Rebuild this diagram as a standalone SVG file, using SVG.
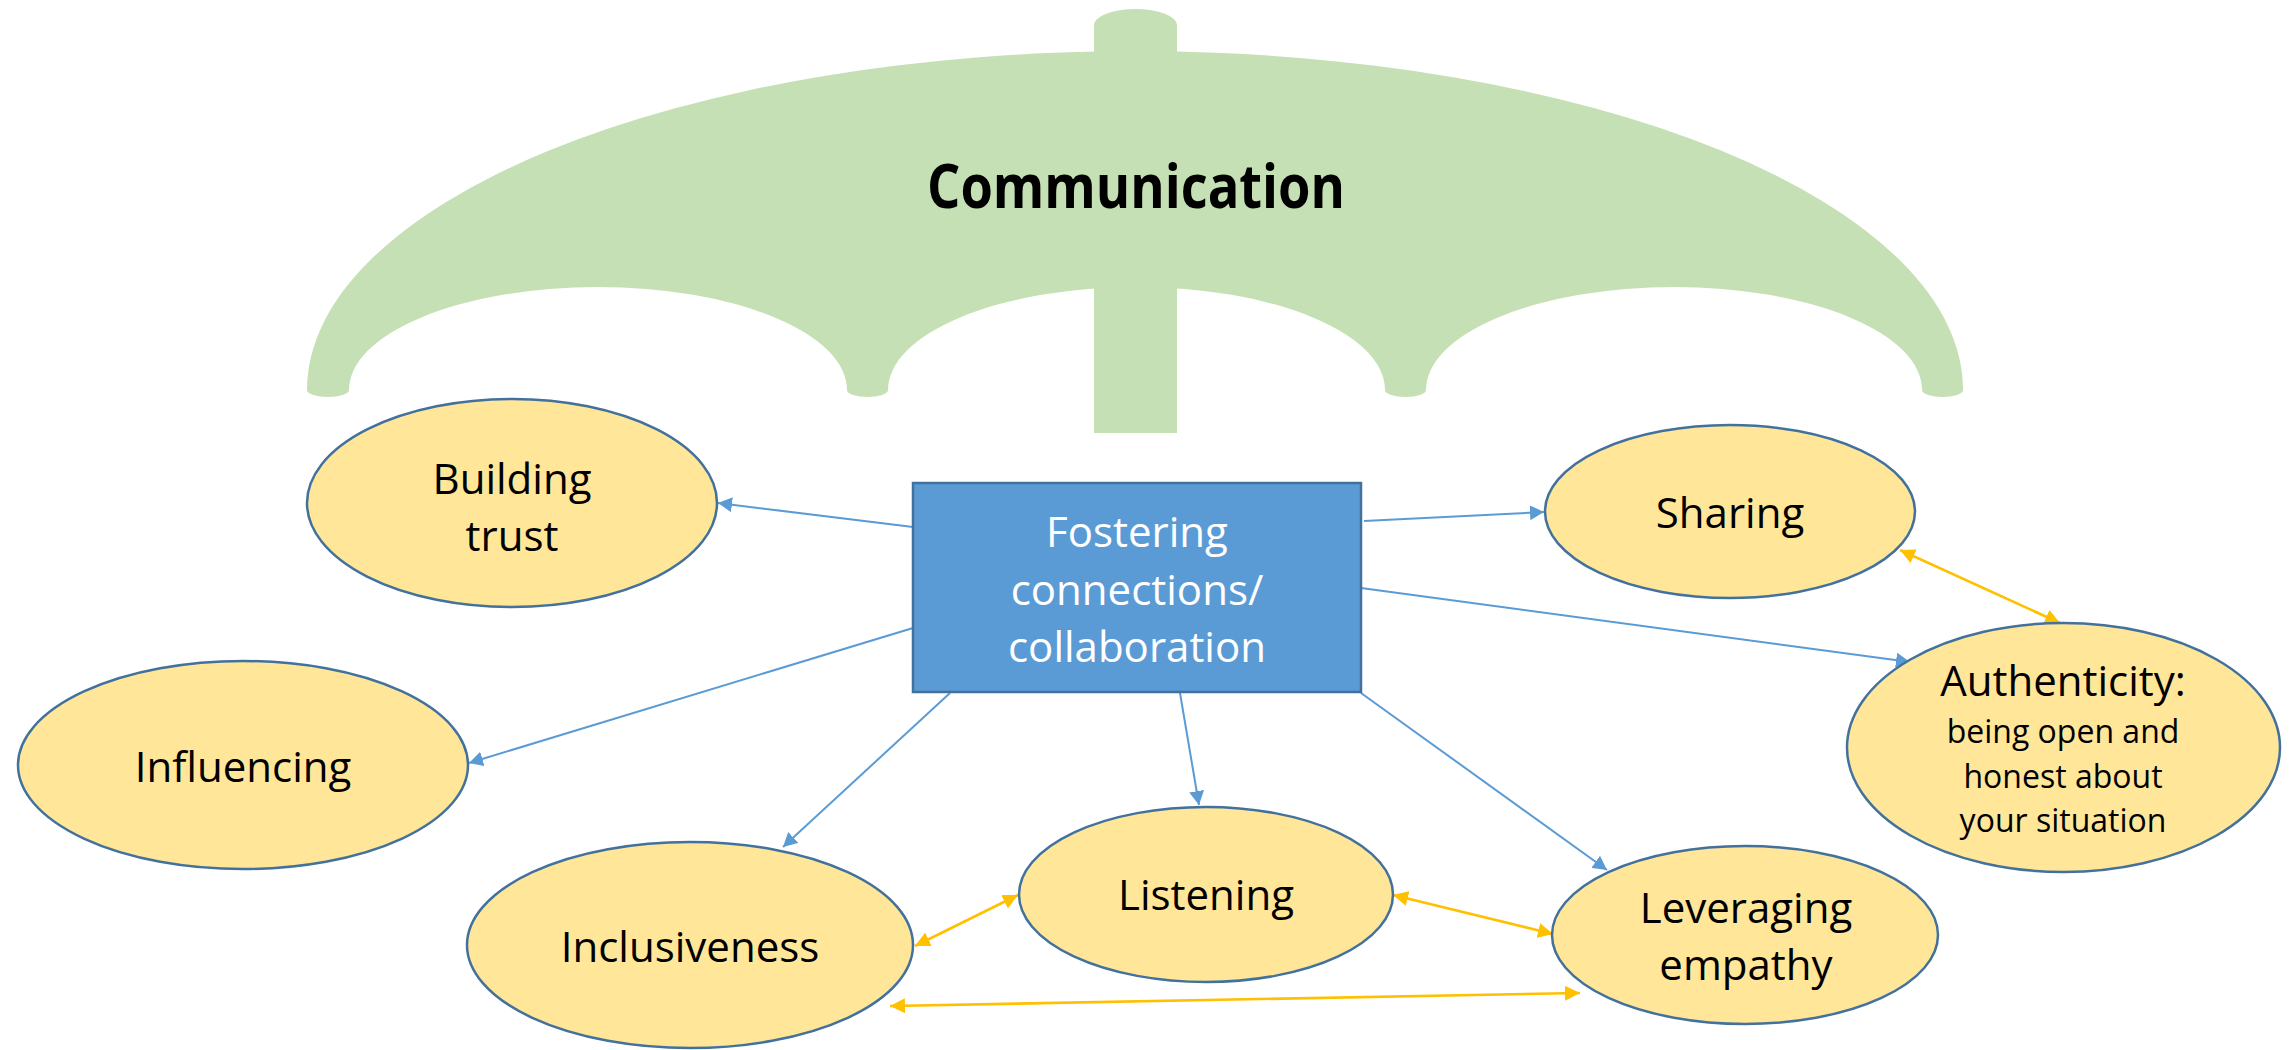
<svg xmlns="http://www.w3.org/2000/svg" width="2293" height="1050" viewBox="0 0 2293 1050">
<style>
.umb{fill:#C5E0B4;}
.node ellipse{fill:#FFE699;stroke:#41719C;stroke-width:2.5;}
.lbl{font-family:"Open Sans","Noto Sans","Liberation Sans",sans-serif;font-size:42px;fill:#000;text-anchor:middle;}
.sm{font-size:32px;}
.wlbl{font-family:"Open Sans","Noto Sans","Liberation Sans",sans-serif;font-size:42px;fill:#fff;text-anchor:middle;}
.blue{stroke:#5B9BD5;stroke-width:2;fill:none;marker-end:url(#ab);}
.org{stroke:#FFC000;stroke-width:2.6;fill:none;marker-end:url(#ao);marker-start:url(#ao);}
</style>
<defs>
<marker id="ab" viewBox="0 0 14 15" refX="14" refY="7.5" markerWidth="14" markerHeight="15" orient="auto-start-reverse" markerUnits="userSpaceOnUse"><path d="M0,0 L14,7.5 L0,15 z" fill="#5B9BD5"/></marker>
<marker id="ao" viewBox="0 0 15 15" refX="15" refY="7.5" markerWidth="15" markerHeight="15" orient="auto-start-reverse" markerUnits="userSpaceOnUse"><path d="M0,0 L15,7.5 L0,15 z" fill="#FFC000"/></marker>
</defs>
<rect width="2293" height="1050" fill="#fff"/>
<g id="umbrella">
<path class="umb" d="M1094 70 V25 A41.5 16 0 0 1 1177 25 V70 Z"/>
<path class="umb" d="M307 390 A828 339 0 0 1 1963 390 A20.5 7 0 0 1 1922 390 A248 103 0 0 0 1426 390 A20.5 7 0 0 1 1385 390 A248.5 103 0 0 0 888 390 A20.5 7 0 0 1 847 390 A249 103 0 0 0 349 390 A21 7 0 0 1 307 390 Z"/>
<rect class="umb" x="1094" y="280" width="83" height="153"/>
<text x="1136" y="208" font-family="'Open Sans','Noto Sans','Liberation Sans',sans-serif" font-weight="bold" font-size="60" text-anchor="middle" textLength="418" lengthAdjust="spacingAndGlyphs" fill="#000">Communication</text>
</g>
<g id="connectors">
<line class="blue" x1="913" y1="527" x2="718" y2="503"/>
<line class="blue" x1="913" y1="628" x2="469" y2="763"/>
<line class="blue" x1="950" y1="693" x2="783" y2="847"/>
<line class="blue" x1="1180" y1="693" x2="1199" y2="805"/>
<line class="blue" x1="1361" y1="693" x2="1607" y2="870"/>
<line class="blue" x1="1364" y1="521" x2="1544" y2="512"/>
<line class="blue" x1="1361" y1="588" x2="1910" y2="662"/>
<line class="org" x1="1900" y1="550" x2="2060" y2="623"/>
<line class="org" x1="915" y1="946" x2="1018" y2="895"/>
<line class="org" x1="1393" y1="895" x2="1553" y2="934"/>
<line class="org" x1="890" y1="1006" x2="1580" y2="993"/>
</g>
<g id="center">
<rect x="913" y="483" width="448" height="209" fill="#5B9BD5" stroke="#41719C" stroke-width="2.5"/>
<text class="wlbl" x="1137" y="547">Fostering</text>
<text class="wlbl" x="1137" y="605">connections/</text>
<text class="wlbl" x="1137" y="662">collaboration</text>
</g>
<g id="building-trust" class="node">
<ellipse cx="512" cy="503" rx="205" ry="104"/>
<text class="lbl" x="512" y="494">Building</text>
<text class="lbl" x="512" y="551">trust</text>
</g>
<g id="influencing" class="node">
<ellipse cx="243" cy="765" rx="225" ry="104"/>
<text class="lbl" x="243" y="782">Influencing</text>
</g>
<g id="inclusiveness" class="node">
<ellipse cx="690" cy="945" rx="223" ry="103"/>
<text class="lbl" x="690" y="962">Inclusiveness</text>
</g>
<g id="listening" class="node">
<ellipse cx="1206" cy="894.5" rx="187" ry="87.5"/>
<text class="lbl" x="1206" y="910">Listening</text>
</g>
<g id="leveraging-empathy" class="node">
<ellipse cx="1745" cy="935" rx="193" ry="89"/>
<text class="lbl" x="1746" y="923">Leveraging</text>
<text class="lbl" x="1746" y="980">empathy</text>
</g>
<g id="sharing" class="node">
<ellipse cx="1730" cy="511.5" rx="185" ry="86.5"/>
<text class="lbl" x="1730" y="528">Sharing</text>
</g>
<g id="authenticity" class="node">
<ellipse cx="2063.5" cy="747.5" rx="216.5" ry="124.5"/>
<text class="lbl" x="2063" y="696">Authenticity:</text>
<text class="lbl sm" x="2063" y="743">being open and</text>
<text class="lbl sm" x="2063" y="788">honest about</text>
<text class="lbl sm" x="2063" y="832">your situation</text>
</g>
</svg>
